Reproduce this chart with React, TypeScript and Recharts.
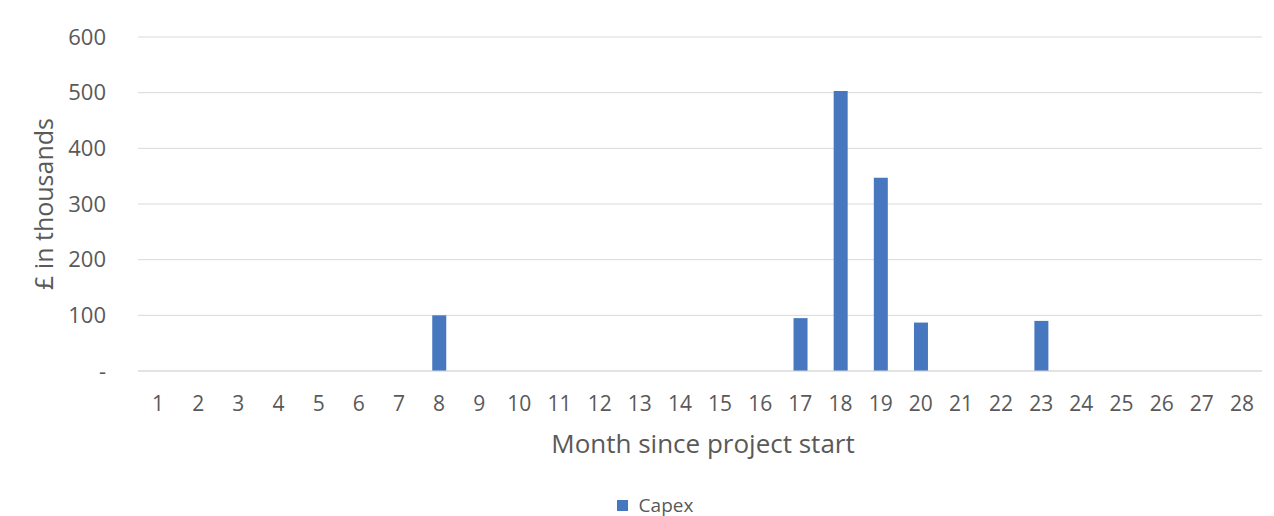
import React from 'react';
import { BarChart, Bar, XAxis, YAxis, CartesianGrid, Legend } from 'recharts';

const months = ['1','2','3','4','5','6','7','8','9','10','11','12','13','14','15','16','17','18','19','20','21','22','23','24','25','26','27','28'];
const capex = [0,0,0,0,0,0,0,100,0,0,0,0,0,0,0,0,95,503,347,87,0,0,90,0,0,0,0,0];
const yTicks = [0,100,200,300,400,500,600];

const data = months.map((m, i) => ({ month: m, capex: capex[i] }));

const FONT = '"Open Sans", sans-serif';
const BLUE = '#4677BF';
const TXT = '#595959';

const YLabel = (props: any) => {
  const vb = props.viewBox;
  const cx = 46;
  const cy = vb.y + vb.height / 2;
  return (
    <text x={cx} y={cy} transform={`rotate(-90 ${cx} ${cy})`} textAnchor="middle" dominantBaseline="middle" fill={TXT} fontSize={25} fontFamily={FONT}>
      £ in thousands
    </text>
  );
};

const XLabel = (props: any) => {
  const vb = props.viewBox;
  const cx = vb.x + vb.width / 2 + 3;
  return (
    <text x={cx} y={446} textAnchor="middle" dominantBaseline="middle" fill={TXT} fontSize={26} fontFamily={FONT}>
      Month since project start
    </text>
  );
};

const LegendContent = () => (
  <div style={{ height: 45, position: 'relative', fontFamily: FONT }}>
    <div style={{ position: 'absolute', top: 22, left: 24, width: '100%', height: 24, display: 'flex', justifyContent: 'center', alignItems: 'center' }}>
      <div style={{ width: 11, height: 11, background: BLUE, marginRight: 11 }} />
      <span style={{ fontSize: 19, lineHeight: '24px', color: TXT }}>Capex</span>
    </div>
  </div>
);

export default function App() {
  return (
    <div style={{ position: 'absolute', left: 0, top: 0, width: 1274, height: 516, background: '#fff' }}>
      <BarChart width={1274} height={516} data={data} margin={{ top: 37, right: 12, left: 0, bottom: 0 }} barCategoryGap="33%">
        <CartesianGrid vertical={false} stroke="#d9d9d9" />
        <XAxis
          dataKey="month"
          height={100}
          tickLine={false}
          tickSize={0}
          tickMargin={25}
          axisLine={{ stroke: '#d9d9d9' }}
          tick={{ fill: TXT, fontSize: 21, fontFamily: FONT }}
          interval={0}
          label={<XLabel />}
        />
        <YAxis
          width={138}
          domain={[0, 600]}
          ticks={yTicks}
          axisLine={false}
          tickLine={false}
          tickMargin={26}
          tick={{ fill: TXT, fontSize: 22, fontFamily: FONT }}
          tickFormatter={(v: number) => (v === 0 ? '-' : String(v))}
          label={<YLabel />}
        />
        <Legend verticalAlign="bottom" content={<LegendContent />} />
        <Bar dataKey="capex" name="Capex" fill={BLUE} isAnimationActive={false} />
      </BarChart>
    </div>
  );
}
